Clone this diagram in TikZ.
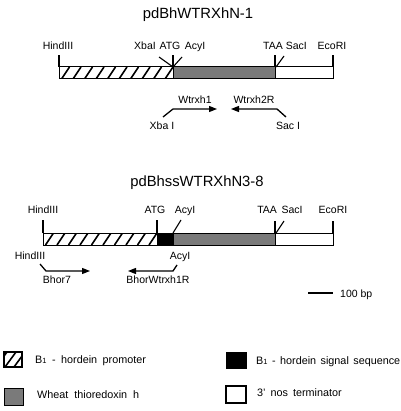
\documentclass[tikz,border=0pt]{standalone}
\usepackage{fontspec}
\setmainfont{Liberation Sans}
\usetikzlibrary{arrows.meta}
\begin{document}
\begin{tikzpicture}[x=1pt,y=-1pt,
  lbl/.style={font=\fontsize{10.5}{12}\selectfont, inner sep=0pt, anchor=base},
  ttl/.style={font=\fontsize{14.8}{17}\selectfont, inner sep=0pt, anchor=base},
  leg/.style={font=\fontsize{10.8}{12}\selectfont, inner sep=0pt, anchor=base west},
  tickln/.style={line width=1.1pt},
  prim/.style={line width=1.3pt, -{Triangle[length=8pt,width=6pt]}},
  seg/.style={draw, line width=1pt},
  hatchln/.style={line width=1.6pt},
  greyfill/.style={fill=black!52}
]
\useasboundingbox (0,0) rectangle (400,411);
\newcommand{\Bone}{B{\fontsize{7.5}{8}\selectfont 1}}

% ---------- construct 1 ----------
\node[ttl] (t1) at (198,19) {pdBhWTRXhN-1};
\begin{scope}
  \clip (59,67) rectangle (173,79);
  \foreach \x in {50,61.5,...,180} \draw[hatchln] (\x,79) -- (\x+8,67);
\end{scope}
\draw[seg] (59,67) rectangle (173,79);
\draw[seg,greyfill] (173,67) rectangle (275,79);
\draw[seg] (275,67) rectangle (333,79);

\coordinate (a1) at (59,67);  \coordinate (a1t) at (59,55);
\coordinate (a2) at (173,67); \coordinate (a2t) at (173,55);
\coordinate (a3) at (275,67); \coordinate (a3t) at (275,55);
\coordinate (a4) at (333,67); \coordinate (a4t) at (333,55);
\coordinate (xbt) at (159,57); \coordinate (act) at (182,57);
\coordinate (a3r) at (276,67); \coordinate (sct) at (284,56);
\draw[tickln] (a1) -- (a1t);
\draw[tickln] (a2) -- (a2t);
\draw[tickln] (a3) -- (a3t);
\draw[tickln] (a4) -- (a4t);
\draw[tickln] (a2) -- (xbt);
\draw[tickln] (a2) -- (act);
\draw[tickln] (a3r) -- (sct);

\node[lbl] (l1) at (58,50) {HindIII};
\node[lbl] (l2) at (145,50) {XbaI};
\node[lbl] (l3) at (170,50) {ATG};
\node[lbl] (l4) at (195,50) {AcyI};
\node[lbl] (l5) at (285,50) {TAA SacI};
\node[lbl] (l6) at (332,50) {EcoRI};

% primers 1
\coordinate (p1a) at (163,117); \coordinate (p1b) at (173,109); \coordinate (p1c) at (217,109);
\draw[prim] (p1a) -- (p1b) -- (p1c);
\coordinate (p2a) at (286,117); \coordinate (p2b) at (277,109); \coordinate (p2c) at (231,109);
\draw[prim] (p2a) -- (p2b) -- (p2c);
\node[lbl] (w1) at (195,104) {Wtrxh1};
\node[lbl] (w2) at (254,104) {Wtrxh2R};
\node[lbl] (xb) at (162,130) {Xba I};
\node[lbl] (sc) at (288,130) {Sac I};

% ---------- construct 2 ----------
\node[ttl] (t2) at (197,187) {pdBhssWTRXhN3-8};
\begin{scope}
  \clip (43,233) rectangle (157,245);
  \foreach \x in {34,45.5,...,165} \draw[hatchln] (\x,245) -- (\x+8,233);
\end{scope}
\draw[seg] (43,233) rectangle (157,245);
\draw[seg,fill=black] (157,233) rectangle (173,245);
\draw[seg,greyfill] (173,233) rectangle (275,245);
\draw[seg] (275,233) rectangle (333,245);

\coordinate (b1) at (43,233);  \coordinate (b1t) at (43,220);
\coordinate (b2) at (157,233); \coordinate (b2t) at (157,220);
\coordinate (b3) at (173,233); \coordinate (b3t) at (181,220);
\coordinate (b4) at (275,233); \coordinate (b4t) at (275,221);
\coordinate (b4r) at (276,233); \coordinate (b4s) at (284,221);
\coordinate (b5) at (333,233); \coordinate (b5t) at (333,221);
\draw[tickln] (b1) -- (b1t);
\draw[tickln] (b2) -- (b2t);
\draw[tickln] (b3) -- (b3t);
\draw[tickln] (b4) -- (b4t);
\draw[tickln] (b4r) -- (b4s);
\draw[tickln] (b5) -- (b5t);

\node[lbl] (m1) at (43,213) {HindIII};
\node[lbl] (m2) at (155,213) {ATG};
\node[lbl] (m3) at (185,213) {AcyI};
\node[lbl] (m4) at (280,213) {TAA\, SacI};
\node[lbl] (m5) at (333,213) {EcoRI};

% primers 2
\node[lbl] (n1) at (30,259) {HindIII};
\node[lbl] (n2) at (180,259) {AcyI};
\coordinate (q1a) at (40,264); \coordinate (q1b) at (46,271); \coordinate (q1c) at (90,271);
\draw[prim] (q1a) -- (q1b) -- (q1c);
\coordinate (q2a) at (177,265); \coordinate (q2b) at (173,271); \coordinate (q2c) at (128,271);
\draw[prim] (q2a) -- (q2b) -- (q2c);
\node[lbl] (bh7) at (57,283) {Bhor7};
\node[lbl] (bhw) at (158,283) {BhorWtrxh1R};

% scale bar
\coordinate (s1) at (308,293); \coordinate (s2) at (333,293);
\draw[line width=1.3pt] (s1) -- (s2);
\node[lbl, anchor=base west] (sb) at (340,297) {100 bp};

% ---------- legend ----------
\begin{scope}
  \clip (4,352) rectangle (22,367);
  \foreach \x in {-4,5,...,30} \draw[hatchln] (\x,367) -- (\x+11,352);
\end{scope}
\draw[line width=1.5pt] (4,352) rectangle (22,367);
\draw[line width=1pt,greyfill] (4,388) rectangle (23,405);
\draw[line width=1pt,fill=black] (226,352) rectangle (246,368);
\draw[line width=1.3pt] (226,386) rectangle (246,403);

\node[leg] (g1) at (35,363) {\spaceskip=5.5pt \Bone{} - hordein promoter};
\node[leg] (g2) at (37,398) {\spaceskip=6pt Wheat thioredoxin h};
\node[leg] (g3) at (256,364) {\spaceskip=4.5pt \Bone{} - hordein signal sequence};
\node[leg] (g4) at (257,396) {\spaceskip=5pt 3' nos terminator};
\end{tikzpicture}
\end{document}
